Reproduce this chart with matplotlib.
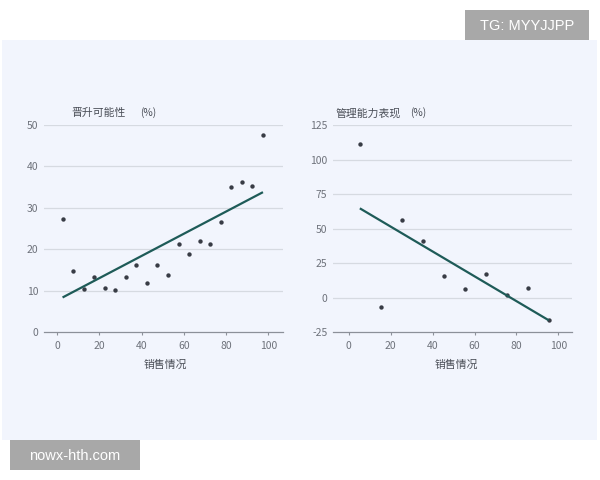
import matplotlib
matplotlib.use("Agg")
import matplotlib.pyplot as plt
from matplotlib.patches import Rectangle
import numpy as np

plt.rcParams['font.family'] = ['Noto Sans CJK SC', 'DejaVu Sans']
plt.rcParams['axes.unicode_minus'] = False

# ---- data ----
left_x = [2.5, 7.5, 12.5, 17.5, 22.5, 27.5, 32.5, 37.5, 42.5, 47.5,
          52.5, 57.5, 62.5, 67.5, 72.5, 77.5, 82.5, 87.5, 92.5, 97.5]
left_y = [27.3, 14.9, 10.4, 13.3, 10.8, 10.2, 13.3, 16.3, 11.9, 16.3,
          13.8, 21.2, 18.8, 22.1, 21.2, 26.5, 35.0, 36.2, 35.3, 47.7]
left_fit_x = [2.5, 97.5]
left_fit_y = [8.4, 33.8]

right_x = [5.3, 15.3, 25.4, 35.6, 45.6, 55.6, 65.6, 75.5, 85.5, 95.4]
right_y = [111.5, -6.6, 56.0, 40.8, 15.7, 6.3, 16.9, 1.8, 7.3, -16.3]
right_fit_x = [5.3, 95.4]
right_fit_y = [64.7, -16.3]

x_ticks = [0, 20, 40, 60, 80, 100]
left_yticks = [0, 10, 20, 30, 40, 50]
right_yticks = [-25, 0, 25, 50, 75, 100, 125]

left_title = "晋升可能性"
right_title = "管理能力表现"
x_label = "销售情况"

# ---- style ----
W, H = 600, 480
panel_c = '#F2F5FD'
grid_c = '#D6DAE1'
spine_c = '#8C9099'
tick_c = '#6E727B'
title_c = '#4A4E57'
dot_c = '#383C45'
line_c = '#1E5B58'

fig = plt.figure(figsize=(6, 4.8), dpi=100)
fig.patch.set_facecolor('white')

def px(x0, y0, x1, y1):
    return [x0 / W, 1 - y1 / H, (x1 - x0) / W, (y1 - y0) / H]

fig.patches.append(Rectangle((2 / W, 1 - 440 / H), 595 / W, 400 / H,
                             transform=fig.transFigure, facecolor=panel_c,
                             edgecolor='none', zorder=-10))

def style(ax, yticks):
    ax.set_facecolor('none')
    ax.set_zorder(2)
    for s in ['top', 'right', 'left']:
        ax.spines[s].set_visible(False)
    ax.spines['bottom'].set_color(spine_c)
    ax.spines['bottom'].set_linewidth(0.9)
    ax.set_xticks(x_ticks)
    ax.set_yticks(yticks)
    ax.tick_params(axis='x', length=2.5, width=0.8, color=spine_c,
                   labelsize=7.5, labelcolor=tick_c, pad=4)
    ax.tick_params(axis='y', length=0, labelsize=7.5, labelcolor=tick_c, pad=4)
    for v in yticks[1:]:
        ax.axhline(v, color=grid_c, lw=0.9, zorder=1)

ax1 = fig.add_axes(px(44, 125, 283, 332.3))
ax1.set_xlim(-6.3, 107)
ax1.set_ylim(left_yticks[0], left_yticks[-1])
style(ax1, left_yticks)
ax1.scatter(left_x, left_y, s=10, color=dot_c, zorder=3, clip_on=False,
            linewidths=0)
ax1.plot(left_fit_x, left_fit_y, color=line_c, lw=1.6, zorder=4, solid_capstyle='butt')

ax2 = fig.add_axes(px(333, 125, 572, 332.3))
ax2.set_xlim(-7.5, 106.5)
ax2.set_ylim(right_yticks[0], right_yticks[-1])
style(ax2, right_yticks)
ax2.scatter(right_x, right_y, s=10, color=dot_c, zorder=3, clip_on=False,
            linewidths=0)
ax2.plot(right_fit_x, right_fit_y, color=line_c, lw=1.6, zorder=4, solid_capstyle='butt')

def ftext(x, y, s, **kw):
    fig.text(x / W, 1 - y / H, s, **kw)

ftext(71, 113, left_title, fontsize=7.8, color=title_c, va='center', ha='left')
ftext(140, 113, "(%)", fontsize=7.3, color=title_c, va='center', ha='left')
ftext(336, 113, right_title, fontsize=7.8, color=title_c, va='center', ha='left')
ftext(410, 113, "(%)", fontsize=7.3, color=title_c, va='center', ha='left')
ftext(165, 365, x_label, fontsize=7.8, color=title_c, va='center', ha='center')
ftext(456, 365, x_label, fontsize=7.8, color=title_c, va='center', ha='center')

# watermark boxes
fig.patches.append(Rectangle((465 / W, 1 - 40 / H), 124 / W, 30 / H,
                             transform=fig.transFigure, facecolor='#A8A8A8',
                             edgecolor='none', zorder=5))
ftext(527, 25.5, "TG: MYYJJPP", fontsize=10.5, color='white', va='center',
      ha='center', family='Liberation Sans', zorder=6)
fig.patches.append(Rectangle((10 / W, 1 - 470 / H), 130 / W, 30 / H,
                             transform=fig.transFigure, facecolor='#A8A8A8',
                             edgecolor='none', zorder=5))
ftext(75, 455.5, "nowx-hth.com", fontsize=10.5, color='white', va='center',
      ha='center', family='Liberation Sans', zorder=6)

fig.savefig('out.png', dpi=100, facecolor='white')
